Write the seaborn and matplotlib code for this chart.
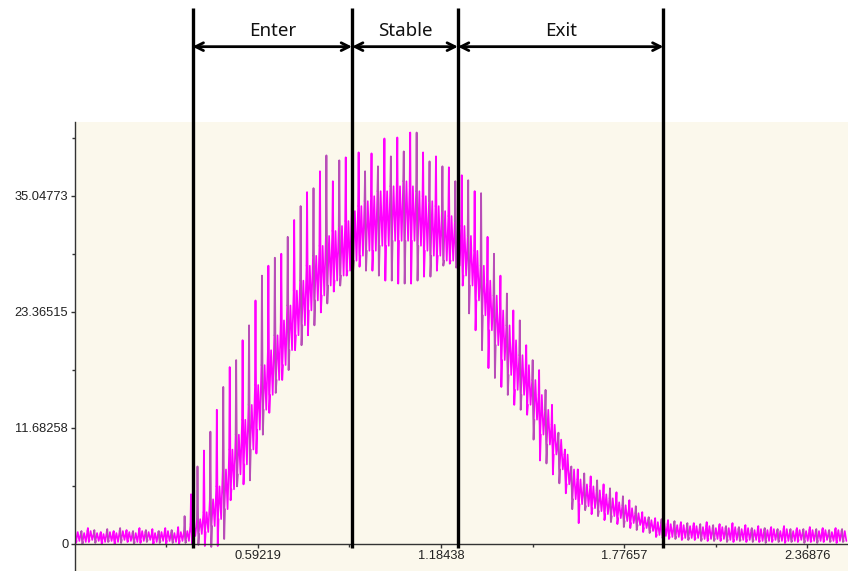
import numpy as np
import pandas as pd
import matplotlib
matplotlib.use("Agg")
import matplotlib.pyplot as plt
import seaborn as sns

# ---- data (per oscillation cycle) ----
# spike peaks / spike troughs
cycle_hi = [1.5, 1.3, 1.6, 1.4, 1.2, 1.5, 1.3, 1.6, 1.4, 1.3,
            1.6, 1.4, 1.5, 1.3, 1.6, 1.4, 1.7, 2.8, 5.0, 7.8,
            9.4, 11.3, 13.5, 15.8, 17.8, 18.5, 20.5, 22.0, 24.5, 27.0,
            28.0, 28.8, 29.2, 30.9, 32.6, 34.0, 35.4, 35.8, 37.5, 39.1,
            36.5, 38.6, 38.9, 36.5, 39.4, 37.5, 39.3, 38.0, 40.8, 39.0,
            40.9, 39.5, 41.4, 41.4, 39.4, 38.5, 39.0, 38.0, 37.9, 36.5,
            37.1, 36.6, 35.5, 35.3, 30.9, 29.2, 27.0, 25.2, 23.5, 22.5,
            20.0, 18.5, 17.5, 15.5, 14.0, 11.2, 9.5, 7.8, 7.5, 7.1,
            6.8, 6.4, 6.0, 5.6, 5.2, 4.8, 4.4, 3.8, 3.2, 2.7,
            2.6, 2.5, 2.4, 2.3, 2.2, 2.1, 2.1, 2.0, 2.2, 1.9,
            2.0, 1.8, 2.1, 1.7, 1.9, 1.6, 1.8, 1.6, 1.7, 1.5,
            1.8, 1.5, 1.6, 1.5, 1.7, 1.5, 1.6, 1.4, 1.6, 1.5]
cycle_lo = [0.1, 0.0, 0.2, 0.1, 0.0, 0.2, 0.0, 0.1, 0.2, 0.0,
            0.1, 0.2, 0.0, 0.1, 0.0, 0.1, 0.0, 0.1, 0.0, -0.1,
            -0.2, -0.3, -0.2, 0.5, 4.4, 5.8, 6.0, 6.4, 9.1, 11.0,
            13.2, 15.2, 16.5, 17.5, 19.5, 20.0, 21.0, 22.0, 23.3, 24.2,
            25.4, 26.0, 27.0, 27.5, 27.9, 27.5, 27.5, 27.0, 26.5, 26.5,
            26.2, 26.2, 26.2, 26.5, 26.9, 26.9, 27.5, 28.0, 28.2, 27.8,
            26.0, 23.2, 21.5, 19.5, 17.7, 16.7, 15.8, 15.0, 14.0, 13.5,
            13.0, 10.5, 8.4, 8.1, 7.0, 6.1, 5.1, 3.5, 2.1, 3.4,
            3.0, 2.8, 2.4, 2.2, 2.0, 1.7, 1.6, 1.4, 1.2, 1.1,
            0.7, 0.6, 0.5, 0.5, 0.4, 0.4, 0.4, 0.3, 0.3, 0.3,
            0.3, 0.2, 0.2, 0.3, 0.2, 0.2, 0.2, 0.1, 0.2, 0.2,
            0.1, 0.2, 0.2, 0.1, 0.2, 0.1, 0.2, 0.2, 0.1, 0.2]
# upper / lower edge of the dense band between the spikes
band_top = [1.2, 1.1, 1.3, 1.1, 1.0, 1.2, 1.1, 1.3, 1.2, 1.1,
            1.3, 1.2, 1.1, 1.2, 1.3, 1.1, 1.2, 1.3, 2.0, 2.5,
            3.2, 4.5, 5.8, 7.5, 9.5, 11.0, 12.5, 14.0, 16.0, 18.0,
            19.5, 21.0, 22.5, 24.0, 25.5, 26.5, 28.0, 29.0, 30.0, 31.0,
            31.5, 32.0, 32.5, 33.5, 34.0, 34.5, 35.0, 35.5, 35.5, 36.0,
            36.0, 36.5, 36.0, 35.5, 35.0, 34.5, 34.0, 33.5, 33.0, 32.5,
            32.0, 31.0, 29.5, 28.0, 26.5, 25.0, 23.5, 22.0, 20.5, 19.0,
            18.0, 16.5, 15.0, 13.5, 12.0, 10.5, 9.0, 7.5, 6.5, 6.0,
            5.8, 5.4, 5.0, 4.6, 4.2, 3.9, 3.6, 3.1, 2.7, 2.4,
            2.2, 2.1, 2.0, 1.9, 1.9, 1.8, 1.8, 1.7, 1.8, 1.6,
            1.7, 1.6, 1.7, 1.5, 1.6, 1.4, 1.5, 1.4, 1.5, 1.3,
            1.5, 1.3, 1.4, 1.3, 1.4, 1.3, 1.4, 1.2, 1.4, 1.3]
band_bot = [0.3, 0.2, 0.4, 0.3, 0.2, 0.3, 0.2, 0.4, 0.3, 0.2,
            0.3, 0.4, 0.2, 0.3, 0.3, 0.2, 0.3, 0.3, 0.8, 1.0,
            1.2, 1.8, 2.5, 3.5, 5.5, 7.0, 8.0, 9.5, 11.5, 13.5,
            15.0, 16.5, 18.0, 19.5, 21.0, 22.0, 23.5, 24.5, 25.0, 26.0,
            26.5, 27.0, 27.5, 28.5, 29.0, 29.5, 29.5, 30.0, 30.0, 30.5,
            30.5, 30.5, 30.5, 30.0, 29.5, 29.0, 29.0, 28.5, 28.5, 28.0,
            27.0, 26.0, 24.5, 23.0, 21.5, 20.0, 18.5, 17.0, 15.5, 15.0,
            14.0, 12.5, 11.0, 10.0, 9.0, 7.5, 6.0, 4.5, 4.0, 3.8,
            3.6, 3.3, 3.0, 2.8, 2.6, 2.3, 2.1, 1.9, 1.6, 1.3,
            0.9, 0.8, 0.7, 0.7, 0.6, 0.6, 0.6, 0.5, 0.5, 0.5,
            0.5, 0.4, 0.4, 0.4, 0.4, 0.4, 0.3, 0.3, 0.4, 0.3,
            0.3, 0.3, 0.4, 0.3, 0.3, 0.3, 0.4, 0.3, 0.3, 0.3]
cycle_period = 2.5 / 120          # sample spacing of the recorded cycles

phase_boundaries = [0.3817, 0.897, 1.2393, 1.9035]
phase_labels = ["Enter", "Stable", "Exit"]

ytick_vals = [0, 11.68258, 23.36515, 35.04773]
ytick_labels = ["0", "11.68258", "23.36515", "35.04773"]
yminor_vals = [5.84129, 17.52387, 29.20644, 40.89031]
xtick_vals = [0.59219, 1.18438, 1.77657, 2.36876]
xtick_labels = ["0.59219", "1.18438", "1.77657", "2.36876"]
xminor_vals = [0.29610, 0.88829, 1.48048, 2.07267]

# ---- dense band: top/bottom alternating, two crossings per cycle ----
b_t, b_v = [], []
for i, (bt, bb) in enumerate(zip(band_top, band_bot)):
    t0 = i * cycle_period
    seq = (bt, bb, bt, bb)
    for k, v in enumerate(seq):
        b_t.append(t0 + k * cycle_period / len(seq))
        b_v.append(v)
band_df = pd.DataFrame({"t": b_t, "v": b_v})

# ---- spikes: one short stroke per cycle (band -> peak -> trough -> band) ----
s_t, s_v, s_u, s_c = [], [], [], []
for i, (h, l, bt, bb) in enumerate(zip(cycle_hi, cycle_lo, band_top, band_bot)):
    t0 = i * cycle_period
    pts = ((0.0, bt), (0.08, h), (0.22, l), (0.34, bb))
    for frac, v in pts:
        s_t.append(t0 + frac * cycle_period)
        s_v.append(v)
        s_u.append(i)
        s_c.append("a" if i % 2 == 0 else "b")
spike_df = pd.DataFrame({"t": s_t, "v": s_v, "cycle": s_u, "tone": s_c})

sns.set_style("white")
plt.rcParams["font.family"] = ["Liberation Sans", "DejaVu Sans"]

fig = plt.figure(figsize=(8.48, 5.71), dpi=100)
ax = fig.add_axes([74.5 / 848, 0.0, 1 - 74.5 / 848, 1 - 122 / 571])
ax.set_facecolor("#FBF8EC")

sns.lineplot(data=band_df, x="t", y="v", ax=ax, color="#FF00FF", linewidth=1.2,
             estimator=None, sort=False)
sns.lineplot(data=spike_df, x="t", y="v", hue="tone", units="cycle", ax=ax,
             palette={"a": "#FF00FF", "b": "#B84DB8"}, linewidth=1.3,
             estimator=None, sort=False, legend=False)

ax.set_xlim(0, 2.5)
ax.set_ylim(-2.72, 42.46)
ax.set_xlabel("")
ax.set_ylabel("")

for s in ("top", "right"):
    ax.spines[s].set_visible(False)
ax.spines["bottom"].set_position(("data", 0))
for s in ("left", "bottom"):
    ax.spines[s].set_color("#333333")
    ax.spines[s].set_linewidth(1.0)

ax.set_yticks(ytick_vals)
ax.set_yticklabels(ytick_labels)
ax.set_yticks(yminor_vals, minor=True)
ax.set_xticks(xtick_vals)
ax.set_xticklabels(xtick_labels)
ax.set_xticks(xminor_vals, minor=True)
ax.tick_params(axis="both", which="major", length=3, width=1, color="#333333",
               labelsize=9.3, labelcolor="#222222", pad=1.5, direction="out",
               left=True, bottom=True)
ax.tick_params(axis="both", which="minor", length=2.5, width=1, color="#333333",
               direction="out", left=True, bottom=True)

# phase boundaries and annotation arrows
y_top = 53.9
y_arrow = 50.04
y_text = 51.6
ax.vlines(phase_boundaries, -0.4, y_top, colors="black", linewidth=2.4,
          clip_on=False, zorder=5)
for j, lab in enumerate(phase_labels):
    x1, x2 = phase_boundaries[j], phase_boundaries[j + 1]
    ax.annotate("", xy=(x2, y_arrow), xytext=(x1, y_arrow),
                arrowprops=dict(arrowstyle="<->", lw=2.0, color="black",
                                mutation_scale=14, shrinkA=0, shrinkB=0),
                annotation_clip=False)
    ax.text((x1 + x2) / 2, y_text, lab, ha="center", va="center",
            fontsize=13.5, family=["Noto Sans", "DejaVu Sans"], color="#111111",
            clip_on=False)

fig.savefig("out.png", dpi=100)
